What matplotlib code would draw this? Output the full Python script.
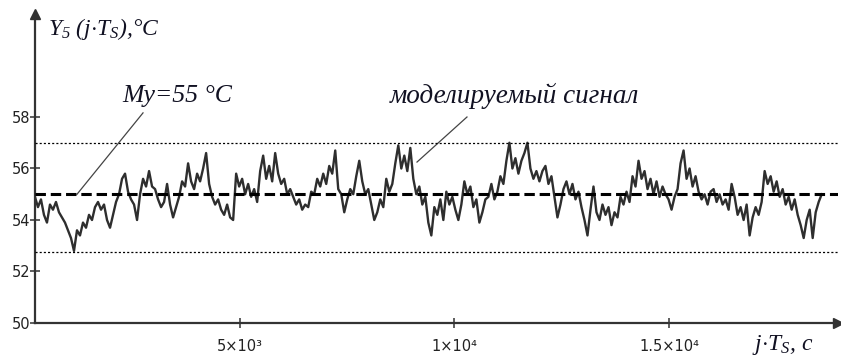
import numpy as np
import matplotlib
matplotlib.use('Agg')
import matplotlib.pyplot as plt

plt.rcParams['mathtext.fontset'] = 'custom'
plt.rcParams['mathtext.it'] = 'Liberation Serif:italic'
plt.rcParams['mathtext.rm'] = 'Liberation Serif:italic'
plt.rcParams['lines.scale_dashes'] = False

# sampling period of the record and time of the first sample, s
Ts = 70.0
t_start = 220.0

# simulated temperature Y5(j*Ts), deg C
y5 = [54.9, 54.5, 54.8, 54.2, 53.9, 54.6, 54.4, 54.7, 54.3, 54.1,
      53.9, 53.6, 53.3, 52.8, 53.6, 53.4, 53.9, 53.7, 54.2, 54.0,
      54.5, 54.7, 54.4, 54.6, 54.0, 53.7, 54.2, 54.7, 55.0, 55.6,
      55.8, 55.1, 54.8, 54.6, 54.0, 55.0, 55.6, 55.3,
      55.9, 55.3, 55.2, 54.8, 54.5, 54.7, 55.4, 54.6, 54.1, 54.5,
      54.9, 55.5, 55.3, 56.2, 55.5, 55.2, 55.8, 55.5, 56.0, 56.6,
      55.4, 54.9, 54.6, 54.8, 54.4, 54.2, 54.6, 54.1, 54.0, 55.8,
      55.3, 55.6, 55.0, 55.4, 54.9, 55.2, 54.7, 55.9,
      56.5, 55.6, 56.1, 55.5, 56.6, 55.8, 55.4, 55.6, 55.0, 55.2,
      54.9, 54.6, 54.8, 54.4, 54.6, 54.5, 55.1, 55.0, 55.6, 55.3,
      55.8, 55.4, 56.1, 55.8, 56.7, 55.2, 55.0, 54.3, 54.8, 55.2,
      55.0, 55.7, 56.3, 55.5, 55.0, 55.2, 54.6, 54.0,
      54.3, 54.8, 54.5, 55.6, 55.1, 55.4, 56.2, 56.9, 56.0, 56.5,
      55.9, 56.8, 55.6, 55.0, 55.3, 54.6, 54.9, 53.9, 53.4, 54.5,
      54.2, 54.8, 54.0, 55.1, 54.6, 54.9, 54.4, 54.0, 54.6, 55.5,
      55.0, 55.3, 54.5, 54.8, 53.9, 54.3, 54.8,
      54.9, 55.4, 54.8, 55.1, 55.7, 55.4, 56.3, 57.0, 56.0, 56.4,
      55.8, 56.3, 56.6, 57.0, 56.0, 55.6, 55.9, 55.5, 55.9, 56.1,
      55.4, 55.7, 54.9, 54.1, 54.6, 55.2, 55.5, 55.0, 55.4, 54.8,
      55.1, 54.5, 54.0, 53.4, 54.4, 55.3, 54.3, 54.0,
      54.6, 54.2, 54.5, 53.8, 54.3, 54.1, 54.9, 54.6, 55.1, 54.7,
      55.7, 55.3, 56.3, 55.6, 55.9, 55.2, 55.6, 55.0, 55.5, 54.9,
      55.3, 55.0, 54.8, 54.4, 54.9, 55.2, 56.2, 56.7, 55.6, 56.0,
      55.3, 55.7, 55.1, 54.8, 55.0, 54.6, 55.1,
      55.2, 54.7, 55.0, 54.6, 54.8, 54.4, 55.4, 54.9, 54.2, 54.5,
      54.0, 54.6, 53.4, 54.1, 54.5, 54.2, 54.7, 55.9, 55.4, 55.7,
      55.1, 55.5, 54.9, 55.2, 54.6, 54.9, 54.4, 54.8, 54.2, 53.8,
      53.3, 54.0, 54.4, 53.3, 54.3, 54.7, 55.0]

My = 55.0          # mean value
y_upper = 57.0     # upper bound
y_lower = 52.77    # lower bound

x_ticks = [5e3, 1e4, 1.5e4]
x_tick_labels = ['5×10³', '1×10⁴', '1.5×10⁴']
y_ticks = [50, 52, 54, 56, 58]

t = t_start + Ts*np.arange(len(y5))

fig = plt.figure(figsize=(8.41, 3.58), dpi=100)
ax = fig.add_axes([35/841, 35/358, 803/841, 309/358])
ax.set_xlim(221, 18940)
ax.set_ylim(50, 62.0)

ax.plot(t, y5, color='#2e2e2e', lw=1.7, zorder=2)
ax.axhline(My, color='black', lw=2.2, dashes=(7.5, 3.5), zorder=3)
ax.axhline(y_upper, color='black', lw=0.9, dashes=(1.5, 1.5), zorder=3)
ax.axhline(y_lower, color='black', lw=0.9, dashes=(1.5, 1.5), zorder=3)

for s in ['top', 'right']:
    ax.spines[s].set_visible(False)
for s in ['left', 'bottom']:
    ax.spines[s].set_linewidth(1.6)
    ax.spines[s].set_color('#333333')

ax.set_xticks(x_ticks)
ax.set_xticklabels(x_tick_labels)
ax.set_yticks(y_ticks)
ax.tick_params(direction='inout', length=7, width=1.1, colors='#333333',
               labelsize=10.5, labelcolor='#222222')
ax.tick_params(axis='y', pad=0)
ax.tick_params(axis='x', pad=8)

# axis arrows
ax.plot(1, 0, marker='>', color='#333333', ms=7, transform=ax.transAxes, clip_on=False)
ax.plot(0, 1, marker='^', color='#333333', ms=7, transform=ax.transAxes, clip_on=False)

tc = '#111122'
ax.text(524, 61.18, r'$Y_5\ (j{\cdot}T_S)$,°C', fontsize=17, color=tc,
        family='Liberation Serif', style='italic', va='baseline')
ax.text(16935, 48.95, r'$j{\cdot}T_S$, с', fontsize=17, color=tc,
        family='Liberation Serif', style='italic', va='baseline', clip_on=False)

# leader lines and labels
ax.plot([2739, 1200], [58.16, My], color='#444444', lw=0.9)
ax.text(2252, 58.58, 'My=55 °C', fontsize=18.5, color=tc,
        family='Liberation Serif', style='italic', va='baseline')
ax.plot([10291, 9126], [58.0, 56.25], color='#444444', lw=0.9)
ax.text(8497, 58.53, 'моделируемый сигнал', fontsize=19.5, color=tc,
        family='Liberation Serif', style='italic', va='baseline')

fig.savefig('out.png', dpi=100)
